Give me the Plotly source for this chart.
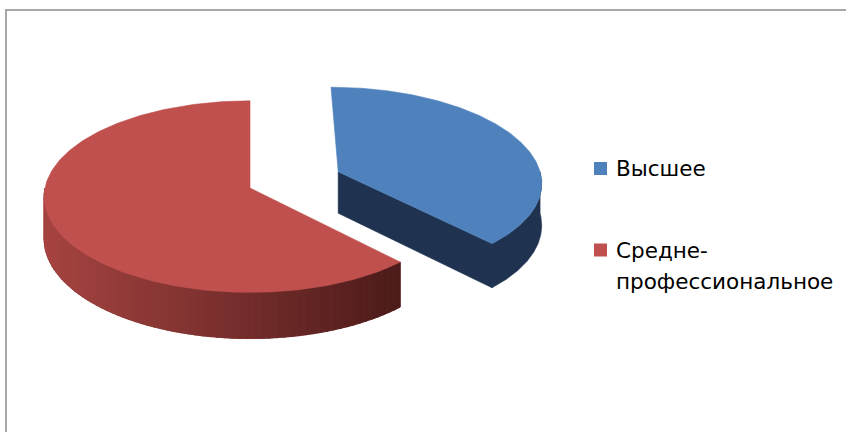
import numpy as np
import plotly.graph_objects as go

# ---- data ----
labels = ["Высшее", "Средне-профессиональное"]
legend_lines = [["Высшее"], ["Средне-", "профессиональное"]]
values = [38, 62]
explode = [0.47, 0.0]
top_colors = ["#4F81BD", "#C0504D"]
side_colors = ["#1F3350", "#8A3836"]
side_grad = [None, ((166, 68, 65), (76, 27, 26))]

# ---- geometry (layout constants, in pixel-like axis units) ----
W, H = 846, 432
CX, CY = 250, 188
RX, RY = 205, 95
K = 0.09
DEPTH = 42


def proj(X, Z, h=0.0):
    s = 1 + K * Z
    return CX + RX * X / s, CY + (-RY * Z + DEPTH * h) / s


def poly_trace(xs, ys, color):
    xs = list(xs) + [xs[0]]
    ys = list(ys) + [ys[0]]
    return go.Scatter(x=xs, y=ys, mode="lines", fill="toself", fillcolor=color,
                      line=dict(width=0.6, color=color), hoverinfo="skip",
                      showlegend=False)


fig = go.Figure()

total = float(sum(values))
angles = np.cumsum([0] + [v / total * 360 for v in values])

slices = []
for i, v in enumerate(values):
    a0, a1 = angles[i], angles[i + 1]
    mid = np.radians((a0 + a1) / 2)
    ox, oz = explode[i] * np.sin(mid), explode[i] * np.cos(mid)
    slices.append((i, a0, a1, ox, oz))

# draw the big slice (behind/left) first, then the exploded one
order = [1, 0]
for i in order:
    _, a0, a1, ox, oz = slices[i]

    def pt(a, h=0.0):
        r = np.radians(a)
        return proj(ox + np.sin(r), oz + np.cos(r), h)

    # radial faces
    r0, r1 = np.radians(a0), np.radians(a1)
    if np.sin(r0) < -1e-6:
        c0, c1 = proj(ox, oz, 0), pt(a0, 0)
        c2, c3 = pt(a0, 1), proj(ox, oz, 1)
        fig.add_trace(poly_trace([c0[0], c1[0], c2[0], c3[0]],
                                 [c0[1], c1[1], c2[1], c3[1]], side_colors[i]))
    if -np.sin(r1) < -1e-6:
        c0, c1 = proj(ox, oz, 0), pt(a1, 0)
        c2, c3 = pt(a1, 1), proj(ox, oz, 1)
        fig.add_trace(poly_trace([c0[0], c1[0], c2[0], c3[0]],
                                 [c0[1], c1[1], c2[1], c3[1]], side_colors[i]))

    # outer side (front half only)
    s0, s1 = max(a0, 90), min(a1, 270)
    if s1 > s0:
        arc = np.linspace(s0, s1, 120)
        topp = [pt(a, 0) for a in arc]
        botp = [pt(a, 1) for a in arc]
        xs = [p[0] for p in topp] + [p[0] for p in botp[::-1]]
        ys = [p[1] for p in topp] + [p[1] for p in botp[::-1]]
        fig.add_trace(poly_trace(xs, ys, side_colors[i]))
        if side_grad[i] is not None:
            cl, cr = side_grad[i]
            allx = [p[0] for p in topp]
            xmin, xmax = min(allx), max(allx)
            n = 70
            edges = np.linspace(s0, s1, n + 1)
            for j in range(n):
                ea, eb = edges[j], edges[j + 1] + (0.4 if j < n - 1 else 0)
                sub = np.linspace(ea, min(eb, s1), 4)
                tp = [pt(a, 0) for a in sub]
                bp = [pt(a, 1) for a in sub]
                xm = np.mean([p[0] for p in tp])
                t = (xm - xmin) / (xmax - xmin)
                col = tuple(int(round(cl[k] + (cr[k] - cl[k]) * t)) for k in range(3))
                colstr = "rgb(%d,%d,%d)" % col
                sx = [p[0] for p in tp] + [p[0] for p in bp[::-1]]
                sy = [p[1] for p in tp] + [p[1] for p in bp[::-1]]
                sx = sx + [sx[0]]
                sy = sy + [sy[0]]
                fig.add_trace(go.Scatter(x=sx, y=sy, mode="lines", fill="toself",
                                         fillcolor=colstr,
                                         line=dict(width=0.8, color=colstr),
                                         hoverinfo="skip", showlegend=False))

    # top face
    arc = np.linspace(a0, a1, 200)
    c = proj(ox, oz, 0)
    xs = [c[0]] + [pt(a)[0] for a in arc]
    ys = [c[1]] + [pt(a)[1] for a in arc]
    fig.add_trace(poly_trace(xs, ys, top_colors[i]))

# ---- legend (manual, Excel-like) ----
shapes = [dict(type="rect", xref="x", yref="y", x0=6, y0=10, x1=W + 10, y1=H + 10,
               line=dict(color="#8C8C8C", width=1.5), fillcolor="rgba(0,0,0,0)",
               layer="below")]
annotations = []
leg_y = [168.5, 250]
for i, lines in enumerate(legend_lines):
    y = leg_y[i]
    shapes.append(dict(type="rect", xref="x", yref="y", x0=594, x1=607,
                       y0=y - 6.5, y1=y + 6.5, fillcolor=top_colors[i],
                       line=dict(width=0)))
    for j, line in enumerate(lines):
        annotations.append(dict(x=614, y=y + j * 31.6, xref="x", yref="y",
                                text=line, showarrow=False, xanchor="left",
                                yanchor="middle",
                                font=dict(family="DejaVu Sans", size=21.5,
                                          color="#000000")))

fig.update_layout(
    width=W, height=H,
    margin=dict(l=0, r=0, t=0, b=0),
    paper_bgcolor="white", plot_bgcolor="white",
    xaxis=dict(range=[0, W], visible=False, fixedrange=True),
    yaxis=dict(range=[H, 0], visible=False, fixedrange=True),
    shapes=shapes, annotations=annotations,
    showlegend=False,
)

fig.write_html(
    "out.html",
    config={"displayModeBar": False, "staticPlot": True},
    post_script="document.body.style.margin='0';"
                "document.body.style.overflow='hidden';"
                "document.documentElement.style.overflow='hidden';",
)
